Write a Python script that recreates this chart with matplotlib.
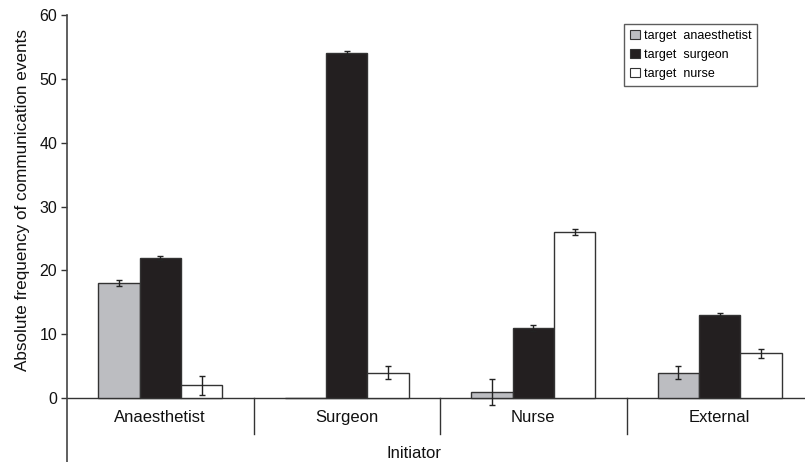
import numpy as np
import matplotlib
matplotlib.use('Agg')
from matplotlib import pyplot as plt
from matplotlib.patches import Patch

plt.rcParams['font.family'] = ['Liberation Sans', 'DejaVu Sans']

initiators = ['Anaesthetist', 'Surgeon', 'Nurse', 'External']
series_names = ['target  anaesthetist', 'target  surgeon', 'target  nurse']
target_anaesthetist = [18, 0, 1, 4]
target_surgeon = [22, 54, 11, 13]
target_nurse = [2, 4, 26, 7]
err_anaesthetist = [0.5, 0, 2.0, 1.0]
err_surgeon = [0.3, 0.4, 0.5, 0.3]
err_nurse = [1.5, 1.0, 0.5, 0.7]

colors = ['#bcbdc1', '#231f20', 'white']
edge = '#333333'

fig = plt.figure(figsize=(8.05, 4.62), dpi=100)
ax = fig.add_axes([67 / 805, 0.0, 738 / 805, 447 / 462])

x = np.arange(len(initiators))
w = 0.222
data = [target_anaesthetist, target_surgeon, target_nurse]
errs = [err_anaesthetist, err_surgeon, err_nurse]
for i, (vals, e, c) in enumerate(zip(data, errs, colors)):
    pos = x + (i - 1) * w
    ax.bar(pos, vals, width=w, color=c, edgecolor=edge, linewidth=1.0, zorder=2)
    show = [k for k in range(len(vals)) if vals[k] > 0]
    ax.errorbar(pos[show], np.array(vals)[show], yerr=np.array(e)[show], fmt='none',
                ecolor='#222222', elinewidth=1.0, capsize=2.5, capthick=1.0, zorder=3)

ax.set_xlim(-0.5, 3.457)
ax.set_ylim(-10, 60)
ax.set_yticks(np.arange(0, 61, 10))
ax.tick_params(axis='y', direction='out', length=4, width=1, colors='#333333',
               labelsize=11.5, labelcolor='#111111', pad=3)
ax.set_xticks([])
for s in ['top', 'right', 'bottom']:
    ax.spines[s].set_visible(False)
ax.spines['left'].set_color('#444444')
ax.spines['left'].set_linewidth(1.2)

ax.axhline(0, color='#333333', linewidth=1.0, zorder=1)
for b in [0.5, 1.5, 2.5]:
    ax.plot([b, b], [0, -5.6], color='#333333', linewidth=1.0, clip_on=False)
for xi, lab in zip(x, initiators):
    ax.text(xi, -3.0, lab, ha='center', va='center', fontsize=12, color='#111111')
ax.text(1.36, -8.6, 'Initiator', ha='center', va='center', fontsize=12, color='#111111')

ax.set_ylabel('Absolute frequency of communication events', fontsize=12.3, color='#111111')
ax.yaxis.set_label_coords(-0.05, 0.586)

handles = [Patch(facecolor=c, edgecolor=edge, linewidth=0.8) for c in colors]
leg = ax.legend(handles, series_names, loc='upper left', bbox_to_anchor=(0.752, 0.985),
                fontsize=9, frameon=True, fancybox=False, handlelength=0.8,
                handleheight=0.8, handletextpad=0.3, borderpad=0.45, labelspacing=0.55,
                borderaxespad=0.2)
leg.get_frame().set_edgecolor('#333333')
leg.get_frame().set_linewidth(1.0)

plt.savefig('out.png', dpi=100)
